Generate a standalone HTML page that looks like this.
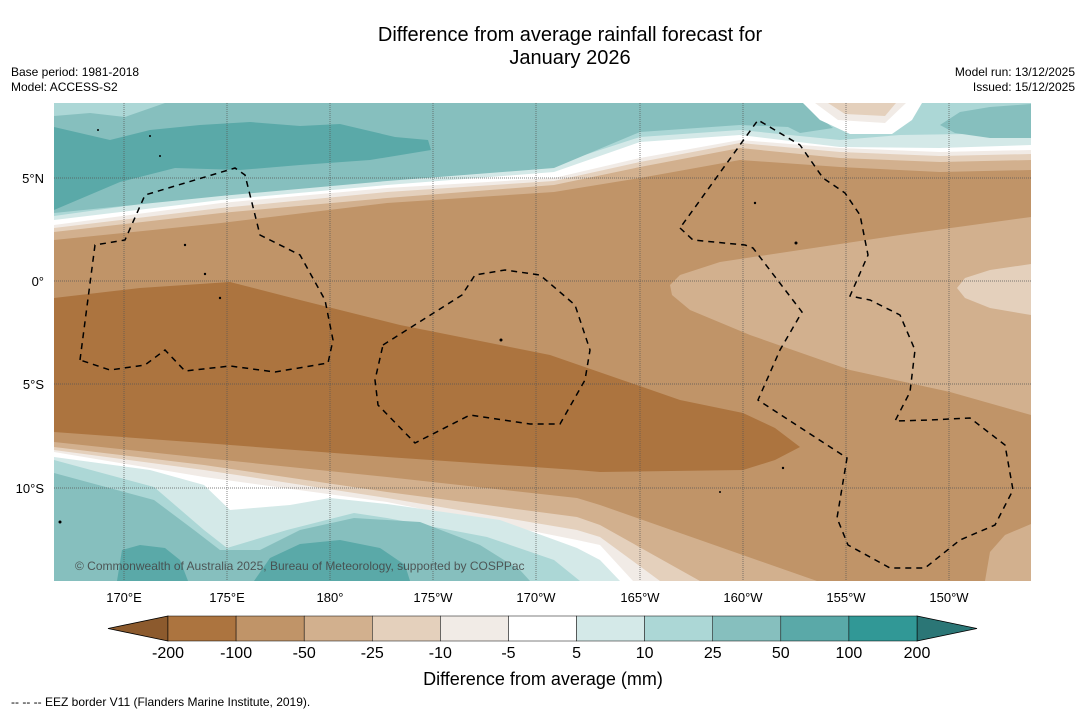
<!DOCTYPE html>
<html><head><meta charset="utf-8">
<style>
body{margin:0;background:#fff;width:1085px;height:713px;overflow:hidden;font-family:"Liberation Sans",sans-serif;}
svg{position:absolute;left:0;top:0}
</style></head>
<body>
<svg id="fig" width="1085" height="713">
<text x="570" y="41" font-size="20" text-anchor="middle">Difference from average rainfall forecast for</text>
<text x="570" y="64" font-size="20" text-anchor="middle">January 2026</text>
<text x="11" y="76" font-size="12">Base period: 1981-2018</text>
<text x="11" y="91" font-size="12">Model: ACCESS-S2</text>
<text x="1075" y="76" font-size="12" text-anchor="end">Model run: 13/12/2025</text>
<text x="1075" y="91" font-size="12" text-anchor="end">Issued: 15/12/2025</text>
<defs><clipPath id="mc"><rect x="54" y="103" width="977" height="478"/></clipPath></defs>
<g clip-path="url(#mc)">
<rect x="54" y="103" width="977" height="478" fill="#c09468"/>
<polygon fill="#d2b08e" points="54,240 221,223 387,203 554,192 640,178 740,160 840,167 940,172 1031,170 1031,103 54,103"/>
<polygon fill="#e4d0bc" points="54,232 221,213 387,198 554,185 640,167 740,148 840,158 940,162 1031,160 1031,103 54,103"/>
<polygon fill="#f1ebe6" points="54,228 221,208 387,192 554,181 640,162 740,143 840,152 940,156 1031,154 1031,103 54,103"/>
<polygon fill="#ffffff" points="54,225 221,203 387,188 554,178 640,158 740,140 840,148 940,152 1031,150 1031,103 54,103"/>
<polygon fill="#d4e9e8" points="54,220 221,200 387,185 554,172 640,142 740,135 840,147 940,148 1031,145 1031,103 54,103"/>
<polygon fill="#acd7d6" points="54,216 221,193 387,178 554,165 640,137 740,130 840,140 900,135 1031,133 1031,103 54,103"/>
<polygon fill="#86bfbe" points="54,213 221,196 387,181 554,168 640,132 740,125 788,127 800,133 833,128 803,103 54,103"/>
<polygon fill="#acd7d6" points="54,103 54,116 90,113 125,117 165,103"/>
<polygon fill="#5aa9a8" points="54,127 110,140 150,130 200,125 250,122 300,126 340,124 395,137 428,140 431,150 370,160 300,165 240,170 175,168 120,182 54,210"/>
<polygon fill="#ffffff" points="803,103 820,120 850,134 892,134 912,120 922,103"/>
<polygon fill="#f1ebe6" points="815,103 838,120 885,123 906,103"/>
<polygon fill="#e4d0bc" points="828,103 845,114 885,116 896,103"/>
<polygon fill="#86bfbe" points="940,125 960,112 990,107 1031,104 1031,138 990,138 955,133"/>
<polygon fill="#d2b08e" points="670,285 680,275 720,262 800,250 900,235 1031,217 1031,415 950,392 850,370 750,335 690,310 672,295"/>
<polygon fill="#e4d0bc" points="957,288 965,278 990,270 1031,264 1031,315 990,308 965,298"/>
<polygon fill="#ac743f" points="54,298 140,288 230,282 300,300 400,325 550,355 680,400 743,413 775,428 800,447 775,460 743,470 600,472 577,470 387,457 204,443 54,432"/>
<polygon fill="#d2b08e" points="54,442 204,458 387,477 577,498 600,505 700,540 817,581 54,581"/>
<polygon fill="#e4d0bc" points="54,447 204,465 387,492 577,517 600,525 700,581 54,581"/>
<polygon fill="#f1ebe6" points="54,450 204,470 387,498 577,530 600,537 660,581 54,581"/>
<polygon fill="#ffffff" points="54,452 204,477 387,502 577,540 600,545 633,581 54,581"/>
<polygon fill="#d4e9e8" points="54,457 150,470 204,485 230,510 290,505 330,498 387,504 500,520 577,548 600,560 620,581 54,581"/>
<polygon fill="#acd7d6" points="54,460 154,487 204,530 227,548 287,530 354,513 387,518 487,537 554,560 580,581 54,581"/>
<polygon fill="#86bfbe" points="54,473 154,500 194,530 220,550 260,550 300,530 354,518 420,522 480,545 520,570 530,581 54,581"/>
<polygon fill="#5aa9a8" points="117,581 122,550 140,545 165,548 180,560 188,581"/>
<polygon fill="#5aa9a8" points="254,581 270,558 300,544 340,540 380,548 405,565 410,581"/>
<polygon fill="#d2b08e" points="985,581 990,552 1005,535 1031,524 1031,581"/>
<g stroke="#555" stroke-width="0.7" stroke-dasharray="1,1">
<line x1="124" y1="103" x2="124" y2="581"/><line x1="227" y1="103" x2="227" y2="581"/><line x1="330" y1="103" x2="330" y2="581"/><line x1="433" y1="103" x2="433" y2="581"/><line x1="536" y1="103" x2="536" y2="581"/><line x1="640" y1="103" x2="640" y2="581"/><line x1="743" y1="103" x2="743" y2="581"/><line x1="846" y1="103" x2="846" y2="581"/><line x1="949" y1="103" x2="949" y2="581"/>
<line x1="54" y1="178" x2="1031" y2="178"/><line x1="54" y1="281" x2="1031" y2="281"/><line x1="54" y1="384" x2="1031" y2="384"/><line x1="54" y1="488" x2="1031" y2="488"/>
</g>
<g fill="none" stroke="#000" stroke-width="1.5" stroke-dasharray="6,5">
<polyline points="80,360 95,245 125,240 145,195 235,168 245,175 260,235 300,255 325,300 333,340 328,363 275,372 230,366 185,371 165,350 145,365 110,370 80,360"/>
<polyline points="383,345 462,295 475,275 505,270 540,275 575,305 590,350 585,380 560,424 530,424 470,415 415,443 378,405 375,380 383,345"/>
<polyline points="680,228 693,240 745,245 753,248 802,312 780,350 758,400 847,458 837,518 848,545 890,568 925,568 960,540 995,525 1013,490 1005,445 970,418 930,420 895,421 910,392 915,350 900,315 870,300 850,296 868,255 860,215 845,193 823,178 800,145 758,120 680,228"/>
</g>
<g fill="#000">
<circle cx="185" cy="245" r="1.2"/><circle cx="205" cy="274" r="1.2"/><circle cx="220" cy="298" r="1.2"/><circle cx="501" cy="340" r="1.5"/><circle cx="755" cy="203" r="1.2"/><circle cx="796" cy="243" r="1.5"/><circle cx="783" cy="468" r="1.2"/><circle cx="720" cy="492" r="1"/><circle cx="60" cy="522" r="1.5"/><circle cx="150" cy="136" r="1"/><circle cx="160" cy="156" r="1"/><circle cx="98" cy="130" r="1"/>
</g>
<text x="75" y="570" font-size="12" fill="#444" opacity="0.85">© Commonwealth of Australia 2025, Bureau of Meteorology, supported by COSPPac</text>
</g>
<g font-size="13">
<text x="124" y="602" text-anchor="middle">170°E</text><text x="227" y="602" text-anchor="middle">175°E</text><text x="330" y="602" text-anchor="middle">180°</text><text x="433" y="602" text-anchor="middle">175°W</text><text x="536" y="602" text-anchor="middle">170°W</text><text x="640" y="602" text-anchor="middle">165°W</text><text x="743" y="602" text-anchor="middle">160°W</text><text x="846" y="602" text-anchor="middle">155°W</text><text x="949" y="602" text-anchor="middle">150°W</text>
</g>
<g font-size="13" text-anchor="end">
<text x="44" y="183">5°N</text><text x="44" y="286">0°</text><text x="44" y="389">5°S</text><text x="44" y="493">10°S</text>
</g>
<g id="cbar"></g>
<text x="543" y="685" font-size="18" text-anchor="middle">Difference from average (mm)</text>
<text x="11" y="706" font-size="12">--  --  -- EEZ border V11 (Flanders Marine Institute, 2019).</text>
</svg>
<script>
const levels = [-200,-100,-50,-25,-10,-5,5,10,25,50,100,200];
const bandColors = ["#ac743f","#c09468","#d2b08e","#e4d0bc","#f1ebe6","#ffffff","#d4e9e8","#acd7d6","#86bfbe","#5aa9a8","#319896"];
const extendColors = ["#8c5a2d","#2b7676"];
(function(){
const NS="http://www.w3.org/2000/svg";
const g=document.getElementById('cbar');
const x0=168,x1=917,barTop=616,h=25,n=bandColors.length,w=(x1-x0)/n;
function cx(i){return x0+i*w;}
function mk(t,a){const e=document.createElementNS(NS,t);for(const k in a)e.setAttribute(k,a[k]);g.appendChild(e);return e;}
const lt=mk('polygon',{points:`108,${barTop+h/2} ${x0},${barTop} ${x0},${barTop+h}`,fill:extendColors[0],stroke:'#000','stroke-width':0.8});


const rt=mk('polygon',{points:`977,${barTop+h/2} ${x1},${barTop} ${x1},${barTop+h}`,fill:extendColors[1],stroke:'#000','stroke-width':0.8});


bandColors.forEach((c,i)=>{
 const r=mk('rect',{x:cx(i),y:barTop,width:w,height:h,fill:c,stroke:'#000','stroke-width':0.5});
 
 
});
levels.forEach((v,i)=>{
 const t=mk('text',{x:cx(i),y:658,'font-size':16,'text-anchor':'middle'});
 t.textContent=v;
 
 
});
})();
</script>
</body></html>
